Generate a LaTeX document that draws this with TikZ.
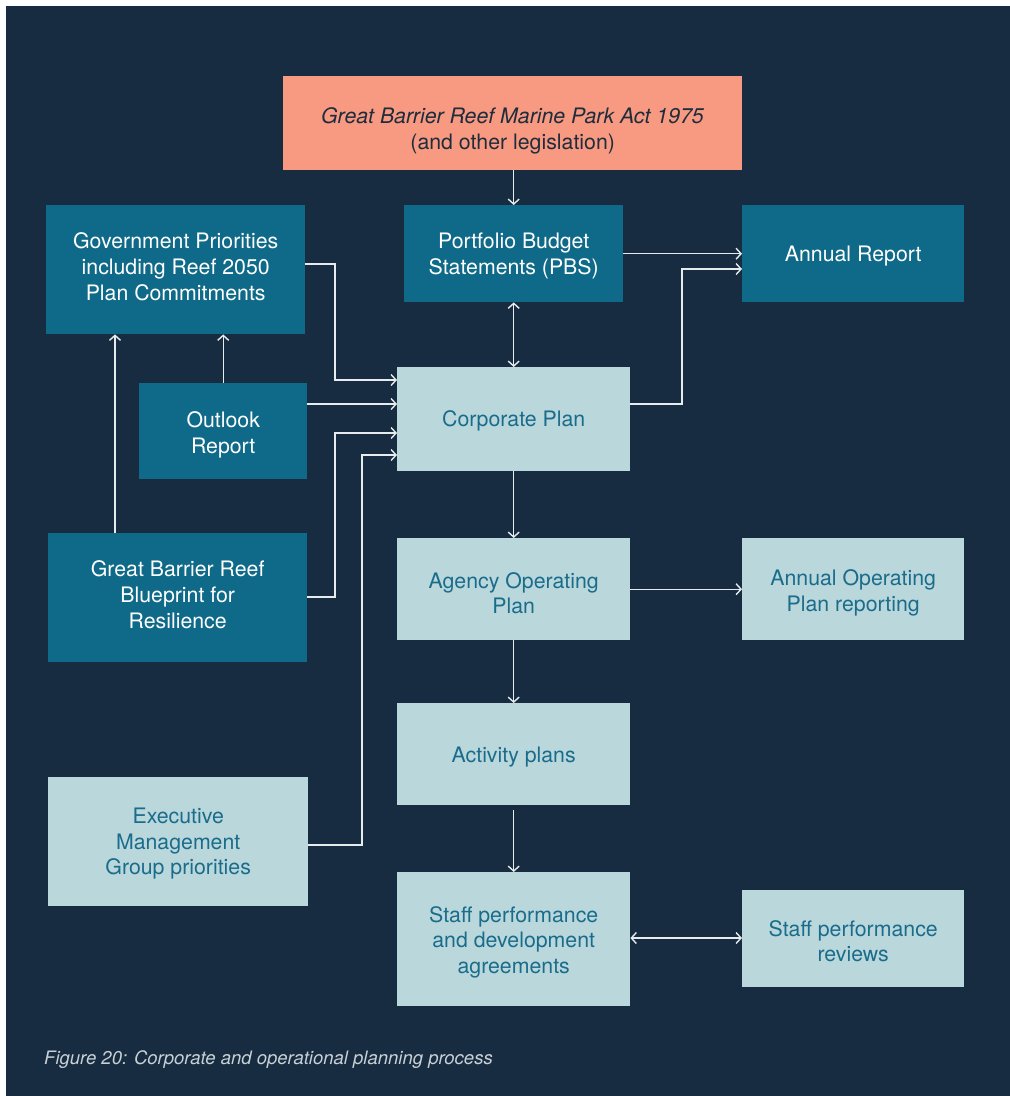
\documentclass[tikz,border=0pt]{standalone}
\usepackage{fontspec}
\setmainfont{TeX Gyre Heros}
\usetikzlibrary{arrows.meta}
\definecolor{bgnavy}{HTML}{172C40}
\definecolor{boxteal}{HTML}{0E6A88}
\definecolor{boxlight}{HTML}{BAD7DC}
\definecolor{lighttext}{HTML}{1A6C8B}
\definecolor{salmonc}{HTML}{F79A81}
\definecolor{acttext}{HTML}{1F2C3C}
\definecolor{linec}{HTML}{E6EBEE}
\definecolor{captc}{HTML}{C9D1D7}
\tikzset{
  boxbase/.style={anchor=north west, inner sep=0pt},
  darkbox/.style={boxbase, fill=boxteal},
  lightbox/.style={boxbase, fill=boxlight},
  actbox/.style={boxbase, fill=salmonc},
  txtbase/.style={inner sep=0pt, align=center, font=\fontsize{21.3}{25.8}\selectfont},
  darktxt/.style={txtbase, text=white},
  lighttxt/.style={txtbase, text=lighttext},
  acttxt/.style={txtbase, text=acttext},
  conn/.style={draw=linec, line width=1.4pt, -{Straight Barb[length=5pt,width=11pt]}},
  connboth/.style={draw=linec, line width=1.4pt, {Straight Barb[length=5pt,width=11pt]}-{Straight Barb[length=5pt,width=11pt]}}
}
% \bx{name}{kind}{x}{y}{w}{h}{text shift down}{text}
\newcommand{\bx}[8]{%
  \node[#2box, minimum width=#5pt, minimum height=#6pt] (#1) at (#3,#4) {};
  \node[#2txt] (#1-t) at ([yshift=-#7pt]#1.center) {#8};
}
\begin{document}
\begin{tikzpicture}[x=1pt,y=-1pt]
\useasboundingbox (0,0) rectangle (1010,1096);
\fill[white] (0,0) rectangle (1010,1096);
\fill[bgnavy] (6,6) rectangle (1010,1096);

\bx{act}{act}{283}{76}{459}{94}{7.5}{\textit{Great Barrier Reef Marine Park Act 1975}\\(and other legislation)}
\bx{pbs}{dark}{404}{205}{219}{97}{2}{Portfolio Budget\\Statements (PBS)}
\bx{ar}{dark}{742}{205}{222}{97}{2}{Annual Report}
\bx{gov}{dark}{46}{205}{259}{129}{-3}{Government Priorities\\including Reef 2050\\Plan Commitments}
\bx{out}{dark}{139}{383}{168}{96}{3.5}{Outlook\\Report}
\bx{corp}{light}{397}{367}{233}{104}{2}{Corporate Plan}
\bx{blue}{dark}{48}{533}{259}{129}{-3}{Great Barrier Reef\\Blueprint for\\Resilience}
\bx{aop}{light}{397}{538}{233}{102}{4}{Agency Operating\\Plan}
\bx{aopr}{light}{742}{538}{222}{102}{4}{Annual Operating\\Plan reporting}
\bx{actp}{light}{397}{703}{233}{102}{3}{Activity plans}
\bx{emg}{light}{48}{777}{260}{129}{2}{Executive\\Management\\Group priorities}
\bx{staff}{light}{397}{872}{233}{134}{3}{Staff performance\\and development\\agreements}
\bx{rev}{light}{742}{890}{222}{97}{2.5}{Staff performance\\reviews}

\node[anchor=base west, inner sep=0pt, font=\fontsize{18.5}{22}\selectfont\itshape, text=captc] (cap) at (44,1064)
  {Figure 20: Corporate and operational planning process};

% connectors
\draw[conn] (act.south-|pbs.north) -- (pbs.north);
\draw[connboth] (pbs.south) -- (corp.north);
\draw[conn] (pbs.east) -- (ar.west);
\draw[conn] (corp.east|-0,404) -- (682,404) |- (ar.west|-0,269);
\draw[conn] (gov.east|-0,264) -- (335,264) |- (corp.west|-0,380);
\draw[conn] (out.east|-0,404) -- (corp.west|-0,404);
\draw[conn] (blue.east|-0,597) -- (335,597) |- (corp.west|-0,433);
\draw[conn] (emg.east|-0,845) -- (362,845) |- (corp.west|-0,455);
\draw[conn] (out.north) -- (out.north|-gov.south);
\draw[conn] (blue.north-|115,0) -- (gov.south-|115,0);
\draw[conn] (corp.south) -- (aop.north);
\draw[conn] (aop.east) -- (aopr.west);
\draw[conn] (aop.south) -- (actp.north);
\draw[conn] ([yshift=-5pt]actp.south) -- (staff.north);
\draw[connboth] (staff.east|-0,938) -- (rev.west|-0,938);
\end{tikzpicture}
\end{document}
